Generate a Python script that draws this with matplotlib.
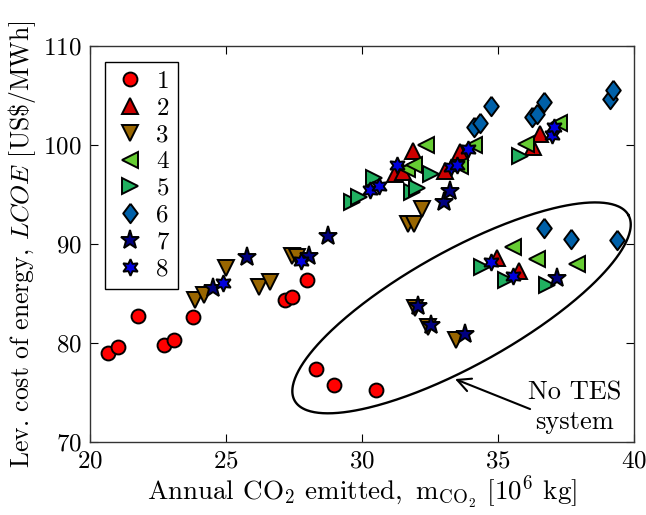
import numpy as np
import matplotlib.pyplot as plt

plt.rcParams['font.family'] = 'serif'
plt.rcParams['font.serif'] = ['cmr10']
plt.rcParams['mathtext.fontset'] = 'cm'
plt.rcParams['axes.unicode_minus'] = False
plt.rcParams['axes.formatter.use_mathtext'] = True

# data: (CO2 emitted [1e6 kg], LCOE [US$/MWh])
s1_x = [20.67, 21.04, 21.78, 22.72, 23.09, 23.80, 27.17, 27.43, 27.99, 28.31, 28.98, 30.50]
s1_y = [79.0, 79.6, 82.7, 79.8, 80.3, 82.6, 84.35, 84.6, 86.4, 77.35, 75.8, 75.3]

s2_x = [31.20, 31.50, 31.88, 33.05, 33.60, 36.30, 36.54, 34.95, 35.78]
s2_y = [97.1, 97.3, 99.4, 97.4, 99.3, 99.8, 101.1, 88.55, 87.3]

s3_x = [23.86, 24.19, 25.00, 26.22, 26.62, 27.42, 27.60, 31.70, 31.90, 32.20, 31.95, 32.44, 33.46]
s3_y = [84.3, 84.8, 87.6, 85.7, 86.2, 88.8, 88.65, 92.0, 92.0, 93.5, 83.5, 81.65, 80.3]

s4_x = [31.64, 31.90, 32.35, 33.60, 34.10, 36.03, 37.25, 35.56, 36.42, 37.90]
s4_y = [97.6, 98.0, 100.0, 97.9, 100.0, 100.1, 102.25, 89.73, 88.45, 87.98]

s5_x = [29.62, 29.90, 30.44, 31.83, 32.03, 32.52, 35.80, 34.43, 35.31, 36.79]
s5_y = [94.2, 94.7, 96.7, 95.3, 95.7, 97.1, 98.9, 87.65, 86.4, 85.86]

s6_x = [34.10, 34.34, 34.74, 36.24, 36.42, 36.70, 39.10, 39.24, 36.70, 37.67, 39.37]
s6_y = [101.85, 102.25, 103.9, 102.8, 103.1, 104.3, 104.6, 105.6, 91.65, 90.55, 90.4]

s7_x = [24.53, 25.76, 28.06, 28.76, 33.00, 33.24, 32.07, 32.53, 33.79, 37.16]
s7_y = [85.6, 88.7, 88.8, 90.8, 94.2, 95.4, 83.7, 81.8, 80.9, 86.6]

s8_x = [24.90, 27.74, 30.30, 30.63, 31.30, 33.26, 33.48, 33.90, 37.00, 37.06, 34.74, 35.54]
s8_y = [86.1, 88.3, 95.45, 95.86, 98.0, 97.8, 98.0, 99.6, 101.0, 101.85, 88.2, 86.8]

labels = ['1', '2', '3', '4', '5', '6', '7', '8']
colors = ['#ff0000', '#cc0000', '#996600', '#66cc33', '#20b060', '#0060a8', '#000080', '#0000dd']

diamond = [(0, 1), (0.75, 0), (0, -1), (-0.75, 0), (0, 1)]
markers = ['o', '^', 'v', '<', '>', diamond, '*', (6, 1, 0)]
sizes = [10, 12, 12, 12, 12, 14, 14, 12]

series = [(s1_x, s1_y), (s2_x, s2_y), (s3_x, s3_y), (s4_x, s4_y),
          (s5_x, s5_y), (s6_x, s6_y), (s7_x, s7_y), (s8_x, s8_y)]

fig = plt.figure(figsize=(6.46, 5.15), dpi=100)
ax = fig.add_axes([0.1393, 0.1417, 0.8421, 0.769])

for (xs, ys), lab, c, m, ms in zip(series, labels, colors, markers, sizes):
    ax.plot(xs, ys, linestyle='none', marker=m, markersize=ms, markerfacecolor=c,
            markeredgecolor='black', markeredgewidth=1.4, label=lab)

# "No TES" ellipse
t = np.linspace(0, 2 * np.pi, 400)
ex = 33.66 + 6.14 * np.cos(t) + 1.0 * np.sin(t)
ey = 83.55 + 9.35 * np.cos(t) - 5.1 * np.sin(t)
ax.plot(ex, ey, color='black', lw=1.7)

ax.annotate('', xy=(33.42, 76.36), xytext=(36.18, 73.33),
            arrowprops=dict(arrowstyle='->', color='black', lw=1.5,
                            shrinkA=0, shrinkB=0, mutation_scale=24))
ax.text(37.83, 73.5, 'No TES\nsystem', ha='center', va='center',
        fontsize=19, linespacing=1.35)

ax.set_xlim(20, 40)
ax.set_ylim(70, 110)
ax.set_xticks([20, 25, 30, 35, 40])
ax.set_yticks([70, 80, 90, 100, 110])
ax.tick_params(direction='in', length=6, top=True, right=True, labelsize=18, pad=6)
for sp in ax.spines.values():
    sp.set_color('#333333')
    sp.set_linewidth(1.0)

ax.set_xlabel(r'Annual CO$_2$ emitted, $\,\mathrm{m}_{\mathrm{CO}_2}$ [10$^6$ kg]', fontsize=19.5, labelpad=1)
ax.set_ylabel(r'Lev. cost of energy, $LCOE$ [US\$/MWh]', fontsize=18.5, labelpad=4)

leg = ax.legend(loc='upper left', bbox_to_anchor=(0.028, 0.96), fontsize=18, numpoints=1,
                labelspacing=0.17, handlelength=1.3, handletextpad=0.4,
                borderpad=0.35, fancybox=False, framealpha=1, borderaxespad=0)
leg.get_frame().set_edgecolor('black')
leg.get_frame().set_linewidth(1.0)

fig.savefig('out.png', dpi=100)
